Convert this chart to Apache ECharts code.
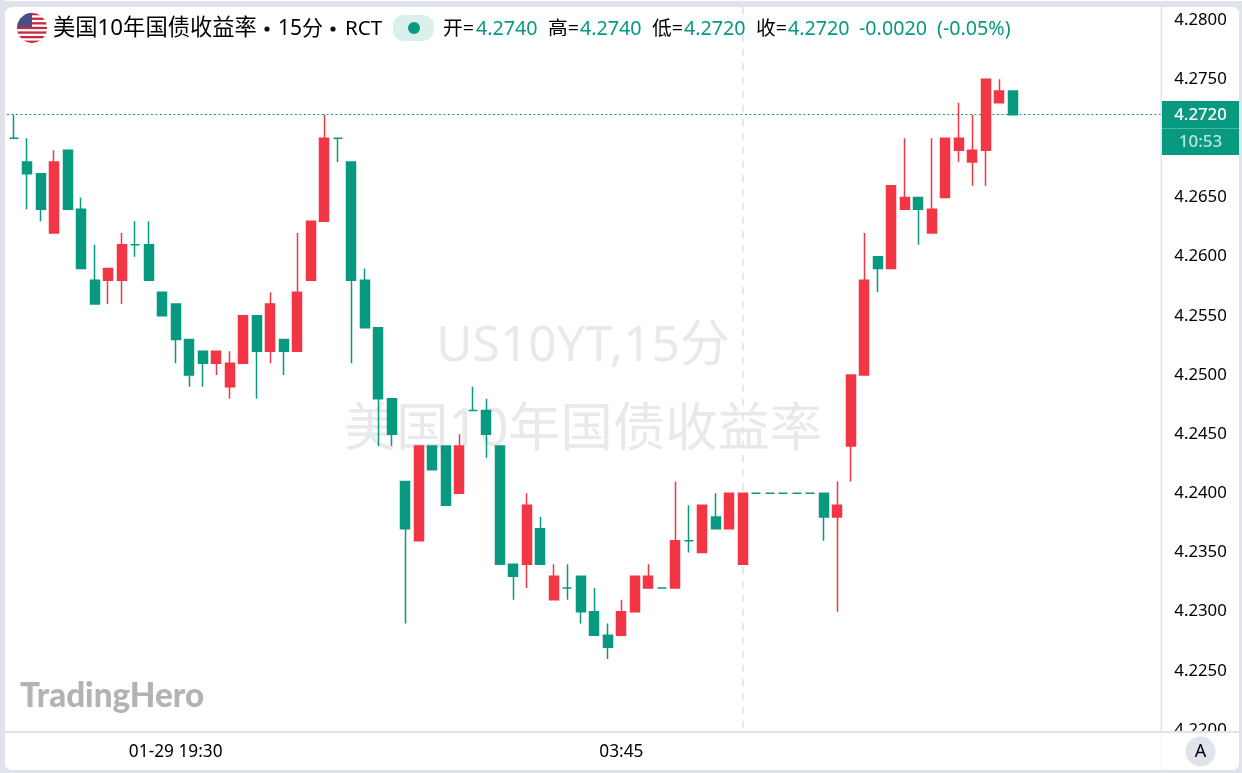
<!DOCTYPE html>
<html><head><meta charset="utf-8">
<style>html,body{margin:0;padding:0;background:#E0E3EB}#c{width:1242px;height:773px}</style>
<script src="https://cdn.jsdelivr.net/npm/echarts@6/dist/echarts.min.js"></script>
</head><body><div id="c"></div>
<script>
const times=["16:15","16:30","16:45","17:00","17:15","17:30","17:45","18:00","18:15","18:30","18:45","19:00","19:15","19:30","19:45","20:00","20:15","20:30","20:45","21:00","21:15","21:30","21:45","22:00","22:15","22:30","22:45","23:00","23:15","23:30","23:45","00:00","00:15","00:30","00:45","01:00","01:15","01:30","01:45","02:00","02:15","02:30","02:45","03:00","03:15","03:30","03:45","04:00","04:15","04:30","04:45","05:00","05:15","05:30","05:45","06:00","06:15","06:30","06:45","07:00","07:15","07:30","07:45","08:00","08:15","08:30","08:45","09:00","09:15","09:30","09:45","10:00","10:15","10:30","10:45","11:00","11:15","11:30","11:45","12:00","12:15","12:30","12:45","13:00","13:15","13:30","13:45"];
const timeLabels={"19:30":"01-29 19:30","03:45":"03:45"};
const opens=[4.271,4.270,4.268,4.267,4.262,4.269,4.264,4.258,4.258,4.258,4.261,4.261,4.257,4.256,4.253,4.252,4.251,4.249,4.251,4.255,4.252,4.253,4.252,4.258,4.263,4.270,4.268,4.258,4.254,4.248,4.241,4.236,4.244,4.244,4.240,4.247,4.247,4.244,4.234,4.234,4.237,4.231,4.232,4.233,4.230,4.228,4.228,4.230,4.232,4.232,4.232,4.236,4.235,4.238,4.237,4.234,4.240,4.240,4.240,4.240,4.240,4.240,4.238,4.244,4.250,4.260,4.259,4.264,4.265,4.262,4.265,4.269,4.268,4.269,4.273,4.274];
const closes=[4.271,4.270,4.267,4.264,4.268,4.264,4.259,4.256,4.259,4.261,4.261,4.258,4.255,4.253,4.250,4.251,4.252,4.251,4.255,4.252,4.256,4.252,4.257,4.263,4.270,4.270,4.258,4.254,4.248,4.245,4.237,4.244,4.242,4.239,4.244,4.247,4.245,4.234,4.233,4.239,4.234,4.233,4.232,4.230,4.228,4.227,4.230,4.233,4.233,4.232,4.236,4.236,4.239,4.237,4.240,4.240,4.240,4.240,4.240,4.240,4.240,4.238,4.239,4.250,4.258,4.259,4.266,4.265,4.264,4.264,4.270,4.270,4.269,4.275,4.274,4.272];
const lows=[4.271,4.270,4.264,4.263,4.262,4.264,4.259,4.256,4.256,4.256,4.260,4.258,4.255,4.251,4.249,4.249,4.250,4.248,4.251,4.248,4.251,4.250,4.252,4.258,4.263,4.268,4.251,4.254,4.244,4.244,4.229,4.236,4.242,4.239,4.240,4.247,4.243,4.234,4.231,4.232,4.234,4.231,4.231,4.229,4.228,4.226,4.228,4.230,4.232,4.232,4.232,4.235,4.235,4.237,4.237,4.234,4.240,4.240,4.240,4.240,4.240,4.236,4.230,4.241,4.250,4.257,4.259,4.264,4.261,4.262,4.265,4.268,4.266,4.266,4.273,4.272];
const highs=[4.271,4.272,4.270,4.267,4.269,4.269,4.265,4.261,4.259,4.262,4.263,4.263,4.257,4.256,4.253,4.252,4.252,4.252,4.255,4.255,4.257,4.253,4.262,4.263,4.272,4.270,4.268,4.259,4.254,4.248,4.241,4.244,4.244,4.244,4.245,4.249,4.248,4.244,4.234,4.240,4.238,4.234,4.234,4.233,4.232,4.229,4.231,4.233,4.234,4.232,4.241,4.239,4.239,4.240,4.240,4.240,4.240,4.240,4.240,4.240,4.240,4.240,4.241,4.250,4.262,4.260,4.266,4.270,4.265,4.270,4.270,4.273,4.272,4.275,4.275,4.274];
const yTicks={min:4.22,max:4.28,step:0.005};
const lastClose=4.272, crosshairTime="06:00";
const UP="#F23645",DOWN="#089981",BORDER="#E0E3EB",TXT="#000000";
const AX='"Noto Sans",sans-serif';
const HD='"Noto Sans","Noto Sans CJK SC",sans-serif';
const candles=opens.map((o,i)=>[o,closes[i],lows[i],highs[i]]);
const flag='<svg xmlns="http://www.w3.org/2000/svg" width="30" height="30"><defs><clipPath id="a"><circle cx="15" cy="15" r="15"/></clipPath></defs><g clip-path="url(#a)"><rect width="30" height="30" fill="#fff"/><rect y="0" width="30" height="2.3" fill="#C8283E"/><rect y="4.6" width="30" height="2.3" fill="#C8283E"/><rect y="9.2" width="30" height="2.3" fill="#C8283E"/><rect y="13.8" width="30" height="2.3" fill="#C8283E"/><rect y="18.4" width="30" height="2.3" fill="#C8283E"/><rect y="23" width="30" height="2.3" fill="#C8283E"/><rect y="27.6" width="30" height="2.4" fill="#C8283E"/><rect width="15" height="14" fill="#4A4E85"/></g></svg>';
function t(x,y,text,o={}){return {type:'text',x,y,z:o.z||20,silent:true,style:Object.assign({text,fill:TXT,font:'18.5px '+HD,textVerticalAlign:'middle',textAlign:'left'},o.s||{})};}
const G='#089981';
const hs='19.7px '+HD;
const chart=echarts.init(document.getElementById('c'),null,{renderer:'canvas'});
chart.setOption({
 animation:false,backgroundColor:'#E0E3EB',
 grid:{left:-6.55,top:20,width:1174.85,height:710,containLabel:false,outerBoundsMode:'none'},
 xAxis:{type:'category',data:times,boundaryGap:true,axisLine:{show:false},axisTick:{show:false},splitLine:{show:false},z:7,
  axisLabel:{show:true,margin:14,color:TXT,fontFamily:AX,fontSize:17.3,interval:(i,v)=>!!timeLabels[v],formatter:v=>timeLabels[v]||''}},
 yAxis:{type:'value',position:'right',min:yTicks.min,max:yTicks.max,interval:yTicks.step,scale:true,z:5,
  axisLine:{show:false},axisTick:{show:false},splitLine:{show:false},
  axisLabel:{margin:6,color:TXT,fontFamily:AX,fontSize:16.8,padding:[9,0,0,0],showMinLabel:true,showMaxLabel:true,formatter:v=>v.toFixed(4)}},
 series:[{type:'candlestick',data:candles,barWidth:9.5,z:2,clip:false,
  itemStyle:{color:UP,color0:DOWN,borderColor:UP,borderColor0:DOWN,borderColorDoji:DOWN,borderWidth:1.5,opacity:1},
  markLine:{silent:true,symbol:'none',precision:4,animation:false,label:{show:false},z:1,
   data:[{yAxis:lastClose,lineStyle:{color:G,type:[2,2.5],width:1.2}}]}}]
});
const cx=chart.convertToPixel({xAxisIndex:0},crosshairTime);
chart.setOption({graphic:{elements:[
  {type:'rect',z:-10,silent:true,shape:{x:5,y:7,width:1234,height:763,r:7},style:{fill:'#fff'}},
  {type:'rect',z:-10,silent:true,shape:{x:0,y:0,width:1242,height:1},style:{fill:'#fff'}},
  t(583,347,'US10YT,15分',{z:-5,s:{font:'49.8px '+HD,fill:'#E9E9EB',textAlign:'center'}}),
  t(583,431,'美国10年国债收益率',{z:-5,s:{font:'52.3px '+HD,fill:'#E9E9EB',textAlign:'center'}}),
  t(20,696,'TradingHero',{z:-5,s:{font:'900 33.2px Lato,sans-serif',fill:'#B3B3B3'}}),
  {type:'line',z:-4,silent:true,shape:{x1:cx,y1:7,x2:cx,y2:731},style:{stroke:BORDER,lineWidth:1.6,lineDash:[7,7]}},
  {type:'rect',z:3,silent:true,shape:{x:0,y:0,width:5,height:773},style:{fill:BORDER}},
  {type:'rect',z:3,silent:true,shape:{x:1161,y:7,width:78,height:725,r:[0,7,0,0]},style:{fill:'#fff'}},
  {type:'rect',z:4,silent:true,shape:{x:1160.5,y:7,width:1.5,height:725},style:{fill:BORDER}},
  {type:'rect',z:6,silent:true,shape:{x:5,y:733,width:1234,height:37,r:[0,0,7,7]},style:{fill:'#fff'}},
  {type:'rect',z:6,silent:true,shape:{x:5,y:731,width:1234,height:2},style:{fill:BORDER}},
  {type:'rect',z:6,silent:true,shape:{x:1161,y:733,width:1,height:37},style:{fill:'#F2F3F7'}},
  {type:'circle',z:8,silent:true,shape:{cx:1200.5,cy:751.5,r:15},style:{fill:BORDER}},
  t(1200.5,752,'A',{s:{font:'18px '+AX,textAlign:'center'}}),
  {type:'rect',z:9,silent:true,shape:{x:1162,y:101,width:77,height:54},style:{fill:G}},
  {type:'rect',z:10,silent:true,shape:{x:1162,y:128,width:77,height:1},style:{fill:'#4DB5A4'}},
  t(1200.5,115.5,'4.2720',{s:{font:'500 16.8px '+AX,fill:'#fff',textAlign:'center'}}),
  t(1200.5,142,'10:53',{s:{font:'500 17px '+AX,fill:'rgba(255,255,255,0.72)',textAlign:'center'}}),
  {type:'image',z:20,silent:true,style:{image:'data:image/svg+xml;utf8,'+encodeURIComponent(flag),x:17,y:13,width:30,height:30}},
  t(53,29,'美国10年国债收益率',{s:{font:'22.3px '+HD}}),
  {type:'circle',z:20,silent:true,shape:{cx:267,cy:29,r:2.6},style:{fill:'#111'}},
  t(278,29,'15分',{s:{font:'21px '+HD}}),
  {type:'circle',z:20,silent:true,shape:{cx:333,cy:29,r:2.6},style:{fill:'#111'}},
  t(345,29,'RCT',{s:{font:'20.6px '+HD}}),
  {type:'rect',z:20,silent:true,shape:{x:393,y:15,width:41,height:26,r:11},style:{fill:'#D9F0EC'}},
  {type:'circle',z:21,silent:true,shape:{cx:414,cy:28,r:6},style:{fill:G}},
  t(443,29,'开=',{s:{font:hs}}),t(476,29,'4.2740',{s:{font:hs,fill:G}}),
  t(548,29,'高=',{s:{font:hs}}),t(580,29,'4.2740',{s:{font:hs,fill:G}}),
  t(652,29,'低=',{s:{font:hs}}),t(684,29,'4.2720',{s:{font:hs,fill:G}}),
  t(756,29,'收=',{s:{font:hs}}),t(788,29,'4.2720',{s:{font:hs,fill:G}}),
  t(859,29,'-0.0020',{s:{font:hs,fill:G}}),t(937,29,'(-0.05%)',{s:{font:hs,fill:G}})
]}});
</script></body></html>
